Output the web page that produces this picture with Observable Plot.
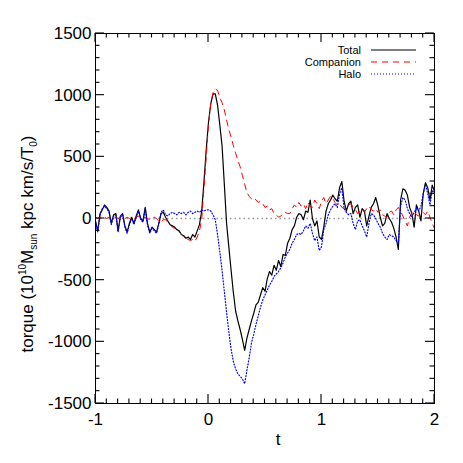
<!DOCTYPE html>
<html>
<head>
<meta charset="utf-8">
<script src="https://cdn.jsdelivr.net/npm/d3@7"></script>
<script src="https://cdn.jsdelivr.net/npm/@observablehq/plot@0.6"></script>
<style>
  html, body { margin: 0; padding: 0; background: #fff; }
  #wrap { position: relative; width: 463px; height: 463px; }
</style>
</head>
<body>
<div id="wrap"></div>
<script>
// sample times (step 0.02 from -1 to 2)
const t = d3.range(151).map(i => +(-1 + 0.02 * i).toFixed(2));

const total = [
  -20,-100,40,70,110,90,60,-40,30,40,
  -100,20,40,-60,-110,-40,10,-40,20,70,
  0,-20,90,-40,-110,-70,-90,-110,-40,40,
  50,10,-20,-50,-60,-70,-90,-100,-130,-140,
  -160,-150,-170,-130,-150,-100,-50,60,300,560,
  780,930,1010,1010,920,760,590,280,-40,-230,
  -420,-600,-750,-830,-900,-980,-1070,-970,-900,-830,
  -770,-700,-680,-620,-560,-590,-490,-430,-460,-380,
  -420,-340,-390,-290,-300,-200,-160,-90,-60,10,
  40,30,-10,60,50,150,0,-60,-20,-150,
  -170,-70,60,120,150,190,160,140,250,300,
  140,60,120,140,40,90,110,10,80,60,
  -60,20,90,120,170,100,10,-60,-40,40,
  0,-30,-80,-150,-250,150,240,230,190,90,
  40,-70,110,60,-20,200,290,250,150,270,
  220
];

const companion = [
  10,0,10,20,10,0,10,0,10,10,
  0,10,0,0,10,0,10,0,10,20,
  0,0,10,0,-10,0,10,0,-20,-30,
  -10,-10,-30,-50,-70,-80,-90,-110,-130,-150,
  -160,-170,-180,-170,-185,-150,-100,-10,250,500,
  760,930,1020,1050,1040,980,940,880,800,720,
  660,590,530,470,420,350,280,210,180,160,
  170,150,130,140,120,90,100,70,80,40,
  30,10,20,30,50,40,40,80,110,90,
  130,100,120,80,130,100,90,150,120,80,
  140,170,120,150,180,160,130,110,120,90,
  80,100,110,120,90,70,40,60,70,50,
  80,100,70,60,80,50,70,30,20,10,
  50,60,30,70,90,60,20,-20,-60,10,
  50,60,30,20,40,50,30,60,10,-40,
  -80
];

const halo = [
  -30,-110,30,80,100,80,50,-50,20,30,
  -110,10,30,-70,-120,-50,0,-50,10,60,
  -10,-30,80,-50,-120,-80,-100,-120,-50,50,
  70,30,20,40,50,40,30,50,40,50,
  30,50,60,40,50,60,50,70,60,70,
  70,60,30,-10,-130,-270,-420,-590,-760,-920,
  -1060,-1160,-1220,-1260,-1280,-1300,-1340,-1230,-1130,-1010,
  -940,-860,-790,-720,-660,-620,-580,-540,-510,-470,
  -450,-430,-400,-360,-310,-280,-250,-200,-170,-130,
  -120,-130,-100,-60,-80,-40,-120,-180,-150,-260,
  -230,-90,-40,30,70,100,120,90,200,250,
  80,50,30,40,-40,-90,-20,-10,-60,-100,
  -150,-40,40,30,0,-40,-70,-120,-150,-170,
  -130,-140,-150,-180,-200,100,170,150,80,40,
  10,50,80,60,100,200,280,200,110,230,
  200
];

const seriesNames = ["Total", "Companion", "Halo"];
const seriesColors = ["#000000", "#ff0000", "#0000ff"];
const seriesDash = [null, "6,5", "1,2"];

const xMajor = [-1, 0, 1, 2];
const xMinor = d3.range(-10, 21).map(k => k / 10);
const yMajor = [-1500, -1000, -500, 0, 500, 1000, 1500];
const yMinor = d3.range(-15, 16).map(k => k * 100);

const rows = (vals) => t.map((tt, i) => ({t: tt, v: vals[i]}));
const dTotal = rows(total), dComp = rows(companion), dHalo = rows(halo);

const FONT = "'Liberation Sans', Arial, Helvetica, sans-serif";
const W = 463, H = 463, ML = 95, MR = 29, MT = 33, MB = 60;
const MAJ = 9, MIN = 4.5;

const chart = Plot.plot({
  width: W,
  height: H,
  marginLeft: ML,
  marginRight: MR,
  marginTop: MT,
  marginBottom: MB,
  style: {fontFamily: FONT, fontSize: "17px", background: "#fff", color: "#000"},
  x: {domain: [-1, 2], label: null},
  y: {domain: [-1500, 1500], label: null},
  marks: [
    Plot.ruleY([0], {stroke: "#999", strokeDasharray: "1.5,3", strokeWidth: 1.5}),
    Plot.line(dTotal, {x: "t", y: "v", stroke: seriesColors[0], strokeWidth: 1.2}),
    Plot.line(dComp, {x: "t", y: "v", stroke: seriesColors[1], strokeWidth: 1, strokeDasharray: seriesDash[1]}),
    Plot.line(dHalo, {x: "t", y: "v", stroke: seriesColors[2], strokeWidth: 1.2, strokeDasharray: seriesDash[2]}),
    Plot.axisX({anchor: "bottom", ticks: xMajor, tickSize: 0, tickPadding: 9, tickFormat: d => String(d), label: null, fontSize: 17}),
    Plot.axisY({anchor: "left", ticks: yMajor, tickSize: 0, tickPadding: 4, tickFormat: d => String(d), label: null, fontSize: 17}),
    Plot.frame({stroke: "#000", strokeWidth: 1})
  ]
});

document.getElementById("wrap").appendChild(chart);

const svg = d3.select(chart);
const xs = chart.scale("x"), ys = chart.scale("y");
const x0 = ML, x1 = W - MR, y0 = MT, y1 = H - MB;

// inward ticks on all four sides, positioned through Plot's scales
const tg = svg.append("g").attr("stroke", "#000").attr("stroke-width", 1.1);
xMinor.forEach(v => {
  const len = xMajor.some(m => Math.abs(m - v) < 1e-9) ? MAJ : MIN;
  const px = xs.apply(v);
  tg.append("line").attr("x1", px).attr("x2", px).attr("y1", y1).attr("y2", y1 - len);
  tg.append("line").attr("x1", px).attr("x2", px).attr("y1", y0).attr("y2", y0 + len);
});
yMinor.forEach(v => {
  const len = yMajor.includes(v) ? MAJ : MIN;
  const py = ys.apply(v);
  tg.append("line").attr("y1", py).attr("y2", py).attr("x1", x0).attr("x2", x0 + len);
  tg.append("line").attr("y1", py).attr("y2", py).attr("x1", x1).attr("x2", x1 - len);
});

// y axis title with sub/superscripts
const yt = svg.append("text")
  .attr("transform", "translate(33,244) rotate(-90)")
  .attr("text-anchor", "middle")
  .attr("font-family", FONT)
  .attr("font-size", 17)
  .attr("fill", "#000");
yt.append("tspan").text("torque (10");
yt.append("tspan").attr("font-size", 10).attr("dy", -7).text("10");
yt.append("tspan").attr("dy", 7).text("M");
yt.append("tspan").attr("font-size", 10).attr("dy", 4).text("sun");
yt.append("tspan").attr("dy", -4).text(" kpc km/s/T");
yt.append("tspan").attr("font-size", 10).attr("dy", 4).text("0");
yt.append("tspan").attr("dy", -4).text(")");

// x axis title
svg.append("text")
  .attr("x", 278).attr("y", 445)
  .attr("text-anchor", "middle")
  .attr("font-family", FONT)
  .attr("font-size", 17)
  .attr("fill", "#000")
  .text("t");

// legend inside top-right
const lg = svg.append("g").attr("font-family", FONT).attr("font-size", 11);
seriesNames.forEach((name, i) => {
  const y = 50 + i * 12;
  lg.append("text").attr("x", 361).attr("y", y + 4).attr("text-anchor", "end").attr("fill", "#000").text(name);
  lg.append("line").attr("x1", 371).attr("x2", 416).attr("y1", y).attr("y2", y)
    .attr("stroke", seriesColors[i]).attr("stroke-width", 1.2)
    .attr("stroke-dasharray", seriesDash[i]);
});
</script>
</body>
</html>
